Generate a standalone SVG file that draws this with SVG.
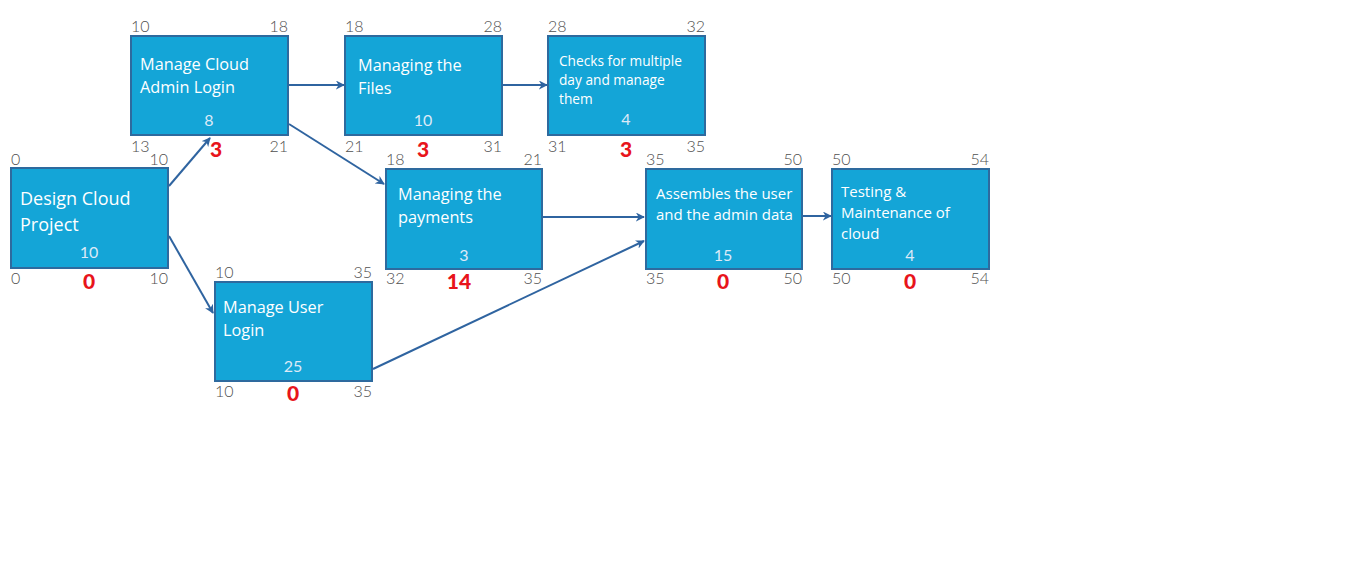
<svg xmlns="http://www.w3.org/2000/svg" width="1360" height="585" viewBox="0 0 1360 585">
<defs>
<marker id="arr" viewBox="0 0 10 10" refX="9" refY="5" markerWidth="4.5" markerHeight="4.5" orient="auto" markerUnits="strokeWidth">
<path d="M0,0 L10,5 L0,10 L3,5 Z" fill="#2F64A0"/>
</marker>
</defs>
<style>
.box{fill:#14A5D7;stroke:#2E6A9E;stroke-width:2}
.t{font-family:"Open Sans","Noto Sans",sans-serif;fill:#FFFFFF}
.d{font-family:"Lato","Noto Sans",sans-serif;font-weight:400;fill:#DCEAF7;font-size:16px;text-anchor:middle}
.c{font-family:"Lato","Noto Sans",sans-serif;font-weight:300;fill:#4F4F4F;font-size:16px}
.r{text-anchor:end}
.s{font-family:"Lato","Noto Sans",sans-serif;fill:#E8141B;font-size:21px;font-weight:900;text-anchor:middle}
.ln{stroke:#2F64A0;stroke-width:2;fill:none;marker-end:url(#arr)}
</style>
<rect width="1360" height="585" fill="#FFFFFF"/>
<g id="connectors">
<line class="ln" x1="169" y1="186" x2="210" y2="138"/>
<line class="ln" x1="169" y1="236" x2="213" y2="313"/>
<line class="ln" x1="289" y1="85" x2="344" y2="85"/>
<line class="ln" x1="289" y1="124" x2="384" y2="184"/>
<line class="ln" x1="503" y1="85" x2="547" y2="85"/>
<line class="ln" x1="543" y1="217" x2="644" y2="217"/>
<line class="ln" x1="373" y1="369" x2="644" y2="241"/>
<line class="ln" x1="803" y1="216" x2="831" y2="216"/>
</g>
<g id="n1">
<rect class="box" x="11" y="168" width="157" height="100"/>
<text class="t" font-size="18" x="20" y="205">Design Cloud</text>
<text class="t" font-size="18" x="20" y="231">Project</text>
<text class="d" x="89" y="258">10</text>
<text class="c" x="11" y="165">0</text><text class="c r" x="168" y="165">10</text>
<text class="c" x="11" y="284">0</text><text class="c r" x="168" y="284">10</text>
<text class="s" x="89" y="289">0</text>
</g>
<g id="n2">
<rect class="box" x="131" y="36" width="157" height="99"/>
<text class="t" font-size="16.3" x="140" y="70">Manage Cloud</text>
<text class="t" font-size="16.3" x="140" y="93">Admin Login</text>
<text class="d" x="209" y="126">8</text>
<text class="c" x="131" y="32">10</text><text class="c r" x="288" y="32">18</text>
<text class="c" x="131" y="152">13</text><text class="c r" x="288" y="152">21</text>
<text class="s" x="216" y="157">3</text>
</g>
<g id="n3">
<rect class="box" x="345" y="36" width="157" height="99"/>
<text class="t" font-size="16.3" x="358" y="71">Managing the</text>
<text class="t" font-size="16.3" x="358" y="94">Files</text>
<text class="d" x="423" y="126">10</text>
<text class="c" x="345" y="32">18</text><text class="c r" x="502" y="32">28</text>
<text class="c" x="345" y="152">21</text><text class="c r" x="502" y="152">31</text>
<text class="s" x="423" y="157">3</text>
</g>
<g id="n4">
<rect class="box" x="548" y="36" width="157" height="99"/>
<text class="t" font-size="13.7" x="559" y="66">Checks for multiple</text>
<text class="t" font-size="13.7" x="559" y="85">day and manage</text>
<text class="t" font-size="13.7" x="559" y="104">them</text>
<text class="d" x="626" y="125">4</text>
<text class="c" x="548" y="32">28</text><text class="c r" x="705" y="32">32</text>
<text class="c" x="548" y="152">31</text><text class="c r" x="705" y="152">35</text>
<text class="s" x="626" y="157">3</text>
</g>
<g id="n5">
<rect class="box" x="386" y="169" width="156" height="100"/>
<text class="t" font-size="16.3" x="398" y="200">Managing the</text>
<text class="t" font-size="16.3" x="398" y="223">payments</text>
<text class="d" x="464" y="261">3</text>
<text class="c" x="386" y="165">18</text><text class="c r" x="542" y="165">21</text>
<text class="c" x="386" y="284">32</text><text class="c r" x="542" y="284">35</text>
<text class="s" x="459" y="289">14</text>
</g>
<g id="n6">
<rect class="box" x="646" y="169" width="156" height="100"/>
<text class="t" font-size="15" x="656" y="199">Assembles the user</text>
<text class="t" font-size="15" x="656" y="220">and the admin data</text>
<text class="d" x="723" y="261">15</text>
<text class="c" x="646" y="165">35</text><text class="c r" x="802" y="165">50</text>
<text class="c" x="646" y="284">35</text><text class="c r" x="802" y="284">50</text>
<text class="s" x="723" y="289">0</text>
</g>
<g id="n7">
<rect class="box" x="832" y="169" width="157" height="100"/>
<text class="t" font-size="15" x="841" y="197">Testing &amp;</text>
<text class="t" font-size="15" x="841" y="218">Maintenance of</text>
<text class="t" font-size="15" x="841" y="239">cloud</text>
<text class="d" x="910" y="261">4</text>
<text class="c" x="832" y="165">50</text><text class="c r" x="989" y="165">54</text>
<text class="c" x="832" y="284">50</text><text class="c r" x="989" y="284">54</text>
<text class="s" x="910" y="289">0</text>
</g>
<g id="n8">
<rect class="box" x="215" y="282" width="157" height="99"/>
<text class="t" font-size="16.3" x="223" y="313">Manage User</text>
<text class="t" font-size="16.3" x="223" y="336">Login</text>
<text class="d" x="293" y="372">25</text>
<text class="c" x="215" y="278">10</text><text class="c r" x="372" y="278">35</text>
<text class="c" x="215" y="397">10</text><text class="c r" x="372" y="397">35</text>
<text class="s" x="293" y="401">0</text>
</g>
</svg>
